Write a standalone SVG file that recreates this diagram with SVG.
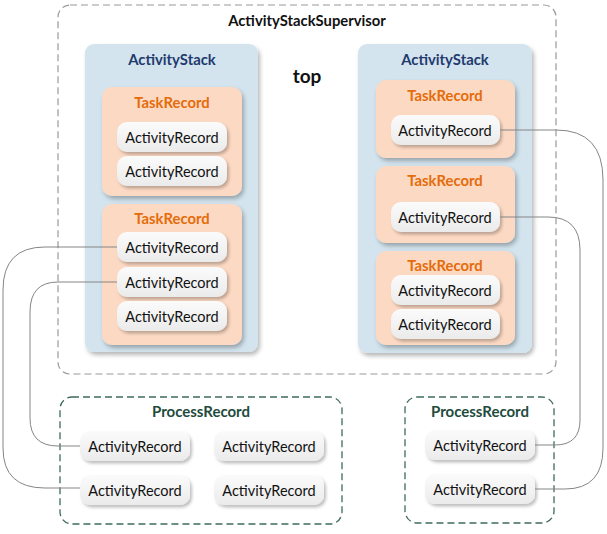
<svg xmlns="http://www.w3.org/2000/svg" width="607" height="534" viewBox="0 0 607 534">
<style>
.lbl{font-family:Lato,"Liberation Sans",sans-serif;font-size:14.5px;fill:#111;text-anchor:middle;dominant-baseline:central}
.t{font-family:Lato,"Liberation Sans",sans-serif;font-weight:bold;text-anchor:middle;dominant-baseline:central}
.sup{font-size:14.8px;fill:#111}
.stk{font-size:14.8px;fill:#1f3a6e}
.task{font-size:14.8px;fill:#e46c0a}
.proc{font-size:15px;fill:#1f4b3d}
.top{font-size:19px;fill:#111}
.outer{fill:#fff;stroke:#9a9a9a;stroke-width:1.2;stroke-dasharray:7 4}
.pr{fill:#fff;stroke:#3e6b5e;stroke-width:1.3;stroke-dasharray:7 4}
.as{fill:#d3e4ee;filter:url(#sh)}
.tr{fill:#fcd9c3;filter:url(#sh)}
.ar{fill:url(#g);filter:url(#sh2)}
.c{fill:none;stroke:#858585;stroke-width:1}
</style>
<defs>
<linearGradient id="g" x1="0" y1="0" x2="0" y2="1"><stop offset="0" stop-color="#fbfbfb"/><stop offset="1" stop-color="#ebebeb"/></linearGradient>
<filter id="sh" x="-10%" y="-10%" width="125%" height="125%"><feDropShadow dx="2" dy="3" stdDeviation="2" flood-color="#000" flood-opacity="0.28"/></filter>
<filter id="sh2" x="-10%" y="-20%" width="125%" height="150%"><feDropShadow dx="2" dy="2.5" stdDeviation="1.6" flood-color="#000" flood-opacity="0.25"/></filter>
</defs>
<g id="supervisor">
<rect class="outer" x="58" y="5" width="498" height="369" rx="12"/>
<text class="t sup" x="307" y="20">ActivityStackSupervisor</text>
<text class="t top" x="307" y="75">top</text>
</g>
<g id="stack-left">
<rect class="as" x="85" y="44" width="173" height="308" rx="9"/>
<text class="t stk" x="172" y="59">ActivityStack</text>
</g>
<g id="stack-right">
<rect class="as" x="358" y="44" width="174" height="309" rx="9"/>
<text class="t stk" x="445" y="59">ActivityStack</text>
</g>
<g id="task-l1">
<rect class="tr" x="102" y="87" width="140" height="109" rx="10"/>
<text class="t task" x="172" y="102">TaskRecord</text>
</g>
<g id="ar-l1a"><rect class="ar" x="117" y="122" width="110" height="30" rx="10"/><text class="lbl" x="172" y="137">ActivityRecord</text></g>
<g id="ar-l1b"><rect class="ar" x="117" y="156" width="110" height="30" rx="10"/><text class="lbl" x="172" y="171">ActivityRecord</text></g>
<g id="task-l2">
<rect class="tr" x="102" y="204" width="140" height="141" rx="10"/>
<text class="t task" x="172" y="218">TaskRecord</text>
</g>
<g id="ar-l2a"><rect class="ar" x="117" y="232" width="110" height="30" rx="10"/><text class="lbl" x="172" y="247">ActivityRecord</text></g>
<g id="ar-l2b"><rect class="ar" x="117" y="267" width="110" height="30" rx="10"/><text class="lbl" x="172" y="282">ActivityRecord</text></g>
<g id="ar-l2c"><rect class="ar" x="117" y="301" width="110" height="30" rx="10"/><text class="lbl" x="172" y="316">ActivityRecord</text></g>
<g id="task-r1">
<rect class="tr" x="376" y="80" width="139" height="78" rx="10"/>
<text class="t task" x="445" y="95">TaskRecord</text>
</g>
<g id="ar-r1"><rect class="ar" x="391" y="115" width="109" height="30" rx="10"/><text class="lbl" x="445" y="130">ActivityRecord</text></g>
<g id="task-r2">
<rect class="tr" x="376" y="166" width="139" height="77" rx="10"/>
<text class="t task" x="445" y="180">TaskRecord</text>
</g>
<g id="ar-r2"><rect class="ar" x="391" y="202" width="109" height="30" rx="10"/><text class="lbl" x="445" y="217">ActivityRecord</text></g>
<g id="task-r3">
<rect class="tr" x="376" y="251" width="139" height="94" rx="10"/>
<text class="t task" x="445" y="265">TaskRecord</text>
</g>
<g id="ar-r3a"><rect class="ar" x="391" y="275" width="109" height="30" rx="10"/><text class="lbl" x="445" y="290">ActivityRecord</text></g>
<g id="ar-r3b"><rect class="ar" x="391" y="309" width="109" height="30" rx="10"/><text class="lbl" x="445" y="324">ActivityRecord</text></g>
<g id="process-left">
<rect class="pr" x="60" y="397" width="282" height="127" rx="12"/>
<text class="t proc" x="201" y="411">ProcessRecord</text>
</g>
<g id="ar-p1a"><rect class="ar" x="80" y="431" width="110" height="30" rx="10"/><text class="lbl" x="135" y="446">ActivityRecord</text></g>
<g id="ar-p1b"><rect class="ar" x="214" y="431" width="110" height="30" rx="10"/><text class="lbl" x="269" y="446">ActivityRecord</text></g>
<g id="ar-p1c"><rect class="ar" x="80" y="475" width="110" height="30" rx="10"/><text class="lbl" x="135" y="490">ActivityRecord</text></g>
<g id="ar-p1d"><rect class="ar" x="214" y="475" width="110" height="30" rx="10"/><text class="lbl" x="269" y="490">ActivityRecord</text></g>
<g id="process-right">
<rect class="pr" x="405" y="397" width="149" height="126" rx="12"/>
<text class="t proc" x="480" y="411">ProcessRecord</text>
</g>
<g id="ar-p2a"><rect class="ar" x="425" y="430" width="110" height="30" rx="10"/><text class="lbl" x="480" y="445">ActivityRecord</text></g>
<g id="ar-p2b"><rect class="ar" x="425" y="474" width="110" height="30" rx="10"/><text class="lbl" x="480" y="489">ActivityRecord</text></g>
<g id="connectors">
<path class="c" d="M117 247 H45 Q3 247 3 290 V448 Q3 488 45 488 H80"/>
<path class="c" d="M117 282 H58 Q30 282 30 312 V418 Q30 446 58 446 H80"/>
<path class="c" d="M500 130 H556 Q603 130 603 180 V448 Q603 489 565 489 H535"/>
<path class="c" d="M500 217 H548 Q580 217 580 250 V420 Q580 445 555 445 H535"/>
</g>
</svg>
